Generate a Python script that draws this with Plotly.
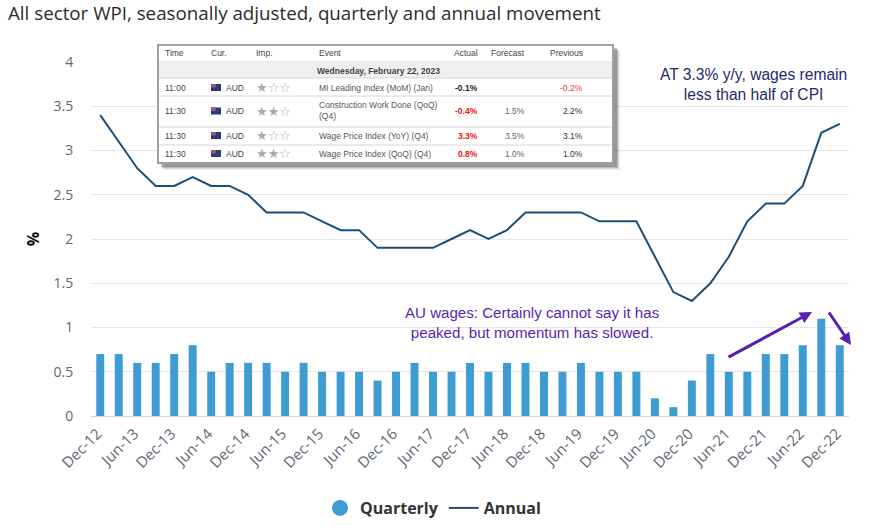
import plotly.graph_objects as go

W, H = 869, 530
L, R, T, B = 91, 20, 62, 114

periods = ["Dec-12","Mar-13","Jun-13","Sep-13","Dec-13","Mar-14","Jun-14","Sep-14","Dec-14","Mar-15","Jun-15","Sep-15",
           "Dec-15","Mar-16","Jun-16","Sep-16","Dec-16","Mar-17","Jun-17","Sep-17","Dec-17","Mar-18","Jun-18","Sep-18",
           "Dec-18","Mar-19","Jun-19","Sep-19","Dec-19","Mar-20","Jun-20","Sep-20","Dec-20","Mar-21","Jun-21","Sep-21",
           "Dec-21","Mar-22","Jun-22","Sep-22","Dec-22"]
quarterly = [0.7,0.7,0.6,0.6,0.7,0.8,0.5,0.6,0.6,0.6,0.5,0.6,0.5,0.5,0.5,0.4,0.5,0.6,0.5,0.5,0.6,0.5,0.6,0.6,0.5,0.5,
             0.6,0.5,0.5,0.5,0.2,0.1,0.4,0.7,0.5,0.5,0.7,0.7,0.8,1.1,0.8]
annual = [3.4,3.1,2.8,2.6,2.6,2.7,2.6,2.6,2.5,2.3,2.3,2.3,2.2,2.1,2.1,1.9,1.9,1.9,1.9,2.0,2.1,2.0,2.1,2.3,2.3,2.3,2.3,
          2.2,2.2,2.2,1.8,1.4,1.3,1.5,1.8,2.2,2.4,2.4,2.6,3.2,3.3]
tick_labels = periods[::2]
y_ticks = [0, 0.5, 1, 1.5, 2, 2.5, 3, 3.5, 4]
y_tick_text = ["0", "0.5", "1", "1.5", "2", "2.5", "3", "3.5", "4"]

table_headers = ["Time", "Cur.", "Imp.", "Event", "Actual", "Forecast", "Previous"]
table_date = "Wednesday, February 22, 2023"
table_time = ["11:00", "11:30", "11:30", "11:30"]
table_stars = ["★☆☆", "★★☆", "★☆☆", "★★☆"]
table_event = ["MI Leading Index (MoM) (Jan)", "Construction Work Done (QoQ)<br>(Q4)",
               "Wage Price Index (YoY) (Q4)", "Wage Price Index (QoQ) (Q4)"]
table_actual = ["-0.1%", "-0.4%", "3.3%", "0.8%"]
table_actual_color = ["#222222", "#ee1111", "#ee1111", "#ee1111"]
table_forecast = ["", "1.5%", "3.5%", "1.0%"]
table_previous = ["-0.2%", "2.2%", "3.1%", "1.0%"]
table_previous_color = ["#ee3333", "#333333", "#333333", "#333333"]

def px(x): return (x - L) / (W - L - R)
def py(y): return (H - B - y) / (H - T - B)

shapes, anns = [], []

def rect(x0, y0, x1, y1, fill=None, line=None, lw=1):
    shapes.append(dict(type="rect", xref="paper", yref="paper", x0=px(x0), x1=px(x1), y0=py(y0), y1=py(y1),
                       fillcolor=fill or "rgba(0,0,0,0)", line=dict(color=line or "rgba(0,0,0,0)", width=lw if line else 0)))

def text(x, y, s, size=8.5, color="#444444", anchor="left", bold=False, family="Liberation Sans", align=None, vanchor="middle"):
    anns.append(dict(xref="paper", yref="paper", x=px(x), y=py(y), text=f"<b>{s}</b>" if bold else s,
                     showarrow=False, xanchor=anchor, yanchor=vanchor, align=align or anchor,
                     font=dict(size=size, color=color, family=family), borderpad=0, borderwidth=0))

# table shadow and box
for off, alpha in [(7, .10), (6, .15), (5, .25), (4, .35)]:
    rect(157 + off, 44 + off, 613 + off, 163 + off, fill=f"rgba(90,90,90,{alpha})")
rect(158, 45, 613, 163, fill="#ffffff", line="#a0a0a0", lw=2)
rect(159, 63, 612, 78, fill="#efefef")
for y in [62, 78, 96, 127, 145]:
    shapes.append(dict(type="line", xref="paper", yref="paper", x0=px(159), x1=px(612), y0=py(y), y1=py(y),
                       line=dict(color="#d6d6d6", width=1)))

# table text
hx = [165, 211, 256, 319, 478, 525, 583]
for i, h in enumerate(table_headers):
    text(hx[i], 53.5, h, size=8.5, color="#444444", anchor="right" if i >= 4 else "left")
text(378, 71, table_date, size=8.5, color="#444444", anchor="center", bold=True)
row_y = [87.5, 111, 135.5, 153.5]
for i, y in enumerate(row_y):
    text(165, y, table_time[i])
    rect(211, y - 3.5, 221, y + 3.5, fill="#2b3a78")
    rect(211, y - 3.5, 216, y, fill="#8a5a7a")
    text(226, y, "AUD")
    text(256, y, table_stars[i], size=13, color="#a8a8a8", family="DejaVu Sans")
    text(319, y - (1 if i == 1 else 0), table_event[i], color="#555555")
    text(478, y, table_actual[i], color=table_actual_color[i], bold=True, anchor="right")
    text(525, y, table_forecast[i], color="#666666", anchor="right")
    text(583, y, table_previous[i], color=table_previous_color[i], anchor="right")

# chart texts
text(8, 12, "All sector WPI, seasonally adjusted, quarterly and annual movement", size=18.75, color="#2b2b2b", family="Open Sans")
text(753, 84.5, "AT 3.3% y/y, wages remain<br>less than half of CPI", size=15.6, color="#1f2a6b", anchor="center", align="center")
text(532, 322, "AU wages: Certainly cannot say it has<br>peaked, but momentum has slowed.", size=15.1, color="#5a1fb0", anchor="center", align="center")

# arrows
for (x0, y0, x1, y1) in [(727, 358, 812, 312), (828, 311, 851, 345)]:
    anns.append(dict(xref="paper", yref="paper", x=px(x1), y=py(y1), axref="pixel", ayref="pixel",
                     ax=x0 - x1, ay=y0 - y1, text="", showarrow=True, arrowhead=2, arrowsize=0.8,
                     arrowwidth=3, arrowcolor="#5a1fb0", standoff=0, startstandoff=0))

fig = go.Figure()
fig.add_bar(x=periods, y=quarterly, name="Quarterly", marker=dict(color="#3d9dd3", line=dict(width=0)),
            width=0.43, showlegend=False)
fig.add_scatter(x=periods, y=annual, mode="lines", name="Annual", line=dict(color="#1b4f77", width=2), showlegend=False)
# legend entries
fig.add_scatter(x=[periods[0]], y=[None], mode="markers", name="<b>Quarterly</b>",
                marker=dict(color="#3d9dd3", size=16, symbol="circle"))
fig.add_scatter(x=[periods[0]], y=[None], mode="lines", name="<b>Annual</b>", line=dict(color="#1b4f77", width=2))

fig.update_layout(
    width=W, height=H, autosize=False, margin=dict(l=L, r=R, t=T, b=B, pad=0, autoexpand=False),
    paper_bgcolor="#ffffff", plot_bgcolor="#ffffff", shapes=shapes, annotations=anns, bargap=0.57,
    font=dict(family="Open Sans", color="#666666"),
    legend=dict(orientation="h", x=px(320), y=py(508), xanchor="left", yanchor="middle", bgcolor="rgba(0,0,0,0)",
                font=dict(size=16, color="#333333", family="Open Sans"), itemsizing="trace", itemwidth=30, tracegroupgap=0),
    xaxis=dict(type="category", categoryorder="array", categoryarray=periods, tickmode="array", tickvals=tick_labels,
               ticktext=tick_labels, tickangle=-45, showgrid=False, zeroline=False, showline=True, linecolor="#c8d5ea",
               linewidth=1, ticks="outside", ticklen=2, tickcolor="rgba(0,0,0,0)", automargin=False, ticklabelshift=-3,
               tickfont=dict(size=15, color="#5f6773", family="Open Sans"), range=[-0.5, 40.5]),
    yaxis=dict(range=[0, 4], tickmode="array", tickvals=y_ticks, ticktext=y_tick_text, showgrid=True, gridcolor="#e6e6e6",
               gridwidth=1, zeroline=False, ticks="outside", ticklen=14, tickcolor="rgba(0,0,0,0)", automargin=False,
               tickfont=dict(size=14, color="#666666", family="Open Sans"),
               title=dict(text="<b>%</b>", standoff=9, font=dict(size=16, color="#111111", family="Open Sans"))),
)
fig.write_html("out.html", config=dict(displayModeBar=False),
               post_script="document.body.style.margin='0';document.documentElement.style.overflow='hidden';")
